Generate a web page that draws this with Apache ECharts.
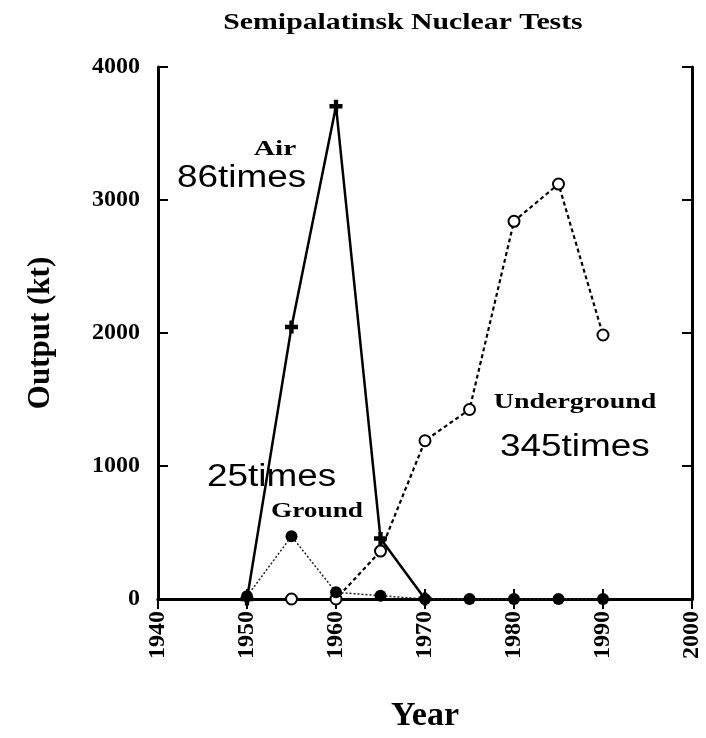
<!DOCTYPE html>
<html>
<head>
<meta charset="utf-8">
<title>Semipalatinsk Nuclear Tests</title>
<script src="https://cdn.jsdelivr.net/npm/echarts@6/dist/echarts.min.js"></script>
<style>
  html, body { margin: 0; padding: 0; background: #fff; }
  #chart { width: 706px; height: 738px; }
</style>
</head>
<body>
<div id="chart"></div>
<script>
// data (output in kt)
const airYears = [1950, 1955, 1960, 1965, 1970];
const airValues = [0, 2045, 3705, 455, 0];

const groundYears = [1950, 1955, 1960, 1965, 1970, 1975, 1980, 1985, 1990];
const groundValues = [20, 472, 50, 25, 0, 0, 0, 0, 0];

const undergroundYears = [1955, 1960, 1965, 1970, 1975, 1980, 1985, 1990];
const undergroundValues = [0, 0, 360, 1190, 1425, 2840, 3120, 1985];

const pairs = (xs, ys) => xs.map((x, i) => [x, ys[i]]);

const serif = '"Liberation Serif", "DejaVu Serif", serif';
const sans = '"Liberation Sans", Arial, sans-serif';

// stretched label text, like the scanned figure
function label(text, x, y, font, sx, align) {
  return {
    type: 'text', x: x, y: y, scaleX: sx, z: 10,
    style: {
      text: text, font: font, fill: '#000',
      textAlign: align || 'center', align: align || 'center',
      textVerticalAlign: 'middle', verticalAlign: 'middle'
    }
  };
}

const boxLine = { lineStyle: { color: '#000', width: 3 } };
const inTick = { show: true, inside: true, length: 10, lineStyle: { color: '#000', width: 2 } };
const plain = (v) => String(v);

let chart = echarts.init(document.getElementById('chart'));
chart.setOption({
  animation: false,
  backgroundColor: '#fff',
  grid: { left: 158, right: 14, top: 67, bottom: 137 },
  graphic: [
    label('Semipalatinsk Nuclear Tests', 403, 23, 'bold 24px ' + serif, 1.24),
    label('Air', 275, 150, 'bold 21px ' + serif, 1.4),
    label('86times', 177, 178, '31px ' + sans, 1.19, 'left'),
    label('25times', 207, 477, '31px ' + sans, 1.19, 'left'),
    label('Ground', 317, 512, 'bold 21px ' + serif, 1.3),
    label('Underground', 575, 403, 'bold 21px ' + serif, 1.33),
    label('345times', 500, 447, '31px ' + sans, 1.19, 'left')
  ],
  xAxis: [{
    type: 'value', position: 'bottom', min: 1940, max: 2000, interval: 10,
    axisLine: boxLine, axisTick: inTick, splitLine: { show: false },
    axisLabel: {
      rotate: 90, margin: 12, color: '#000', formatter: plain,
      fontFamily: serif, fontWeight: 'bold', fontSize: 24
    },
    name: 'Year', nameLocation: 'middle', nameGap: 100,
    nameTextStyle: { color: '#000', fontFamily: serif, fontWeight: 'bold', fontSize: 34 }
  }, {
    type: 'value', position: 'top', min: 1940, max: 2000, interval: 10,
    axisLine: boxLine, axisTick: inTick, axisLabel: { show: false },
    splitLine: { show: false }
  }],
  yAxis: [{
    type: 'value', position: 'left', min: 0, max: 4000, interval: 1000,
    axisLine: { show: true, lineStyle: { color: '#000', width: 3 } },
    axisTick: inTick, splitLine: { show: false },
    axisLabel: {
      margin: 18, color: '#000', formatter: plain,
      fontFamily: serif, fontWeight: 'bold', fontSize: 24
    },
    name: 'Output (kt)', nameLocation: 'middle', nameGap: 102, nameRotate: 90,
    nameTextStyle: { color: '#000', fontFamily: serif, fontWeight: 'bold', fontSize: 31 }
  }, {
    type: 'value', position: 'right', min: 0, max: 4000, interval: 1000,
    axisLine: { show: true, lineStyle: { color: '#000', width: 3 } },
    axisTick: inTick, axisLabel: { show: false }, splitLine: { show: false }
  }],
  series: [{
    name: 'Underground',
    type: 'line',
    data: pairs(undergroundYears, undergroundValues),
    symbol: 'emptyCircle',
    symbolSize: 11,
    showAllSymbol: true,
    itemStyle: { color: '#000', borderWidth: 2.5 },
    lineStyle: { color: '#000', width: 2.2, type: [4, 3] },
    z: 3
  }, {
    name: 'Ground',
    type: 'line',
    data: pairs(groundYears, groundValues),
    symbol: 'circle',
    symbolSize: 12,
    showAllSymbol: true,
    itemStyle: { color: '#000' },
    lineStyle: { color: '#222', width: 1.5, type: [2, 2] },
    z: 4
  }, {
    name: 'Air',
    type: 'line',
    data: pairs(airYears, airValues),
    symbol: 'path://M4,0H8V4H12V8H8V12H4V8H0V4H4Z',
    symbolSize: 13,
    showAllSymbol: true,
    itemStyle: { color: '#000' },
    lineStyle: { color: '#000', width: 2.5 },
    z: 5
  }]
});
</script>
</body>
</html>
